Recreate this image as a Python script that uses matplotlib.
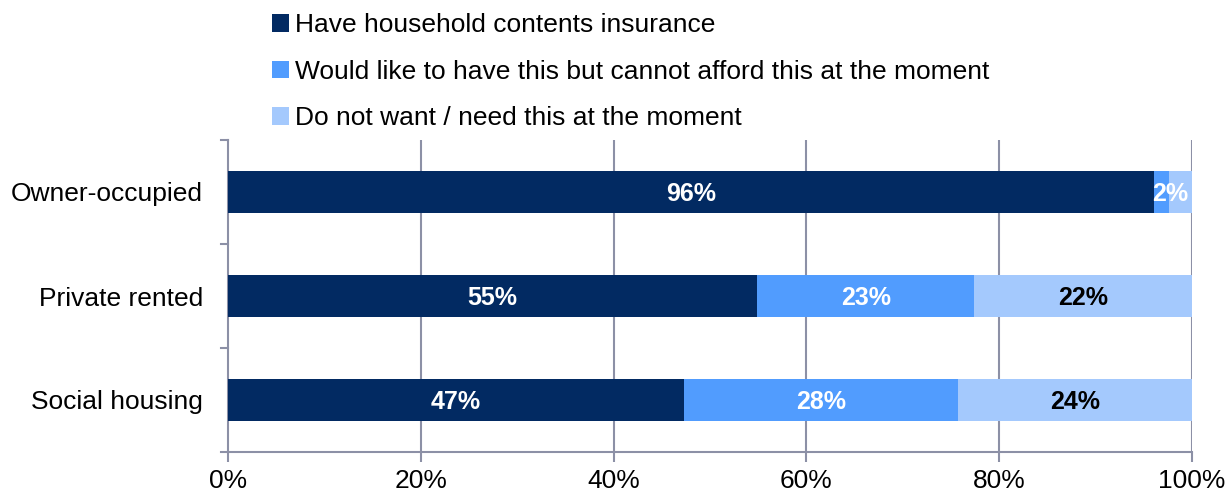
import matplotlib.pyplot as plt
from matplotlib.patches import Patch

plt.rcParams['font.family'] = ['Liberation Sans', 'DejaVu Sans']

# Tenure groups, top to bottom
categories = ["Owner-occupied", "Private rented", "Social housing"]
series_names = [
    "Have household contents insurance",
    "Would like to have this but cannot afford this at the moment",
    "Do not want / need this at the moment",
]
have = [96.1, 54.9, 47.3]
cannot_afford = [1.5, 22.5, 28.4]
dont_want = [2.4, 22.6, 24.3]
labels_have = ["96%", "55%", "47%"]
labels_afford = ["", "23%", "28%"]
labels_dont = ["2%", "22%", "24%"]
x_ticks = [0, 20, 40, 60, 80, 100]

colors = ["#022a62", "#519cfe", "#a4c9fd"]
grid_col = "#8c90a6"

fig = plt.figure(figsize=(12.28, 4.96), dpi=100)
ax = fig.add_axes([228 / 1228, 1 - 452 / 496, 964 / 1228, 312 / 496])

ypos = list(range(len(categories)))
h = 0.4
left = [0.0] * len(categories)
series = [have, cannot_afford, dont_want]
seg_labels = [labels_have, labels_afford, labels_dont]
for i, vals in enumerate(series):
    ax.barh(ypos, vals, left=left, height=h, color=colors[i], zorder=3)
    for j, v in enumerate(vals):
        txt = seg_labels[i][j]
        if txt:
            cx = left[j] + v / 2
            tc = "black" if i == 2 else "white"
            ha = "center"
            if v < 5:
                # narrow segment at the end: keep the label inside the bar
                cx, ha, tc = 99.6, "right", "white"
            ax.text(cx, j + 0.02, txt, ha=ha, va="center", color=tc,
                    fontsize=18, fontweight="bold", zorder=4)
    left = [l + v for l, v in zip(left, vals)]

ax.set_xlim(0, 100)
ax.set_ylim(2.5, -0.5)
ax.set_xticks(x_ticks)
ax.set_xticklabels([f"{t}%" for t in x_ticks], fontsize=19)
ax.set_yticks(ypos)
ax.set_yticklabels(categories, fontsize=19)
ax.tick_params(axis="y", length=0, pad=18)
ax.tick_params(axis="x", length=7, color=grid_col, width=1.5, pad=5)

# category separators on the y axis
for b in [-0.5, 0.5, 1.5, 2.5]:
    ax.plot([-0.75, 0], [b, b], color=grid_col, lw=1.5, clip_on=False, zorder=2)

for t in x_ticks[1:]:
    ax.axvline(t, color=grid_col, lw=1.5, zorder=1)

for s in ["top", "right"]:
    ax.spines[s].set_visible(False)
for s in ["left", "bottom"]:
    ax.spines[s].set_color(grid_col)
    ax.spines[s].set_linewidth(1.5)

handles = [Patch(facecolor=c, edgecolor="none") for c in colors]
fig.legend(handles, series_names, loc="upper left",
           bbox_to_anchor=(259 / 1228, 1.0), frameon=False, fontsize=19,
           handlelength=0.65, handleheight=0.65, handletextpad=0.2,
           labelspacing=0.85, borderaxespad=0.1)

fig.savefig("out.png", dpi=100)
